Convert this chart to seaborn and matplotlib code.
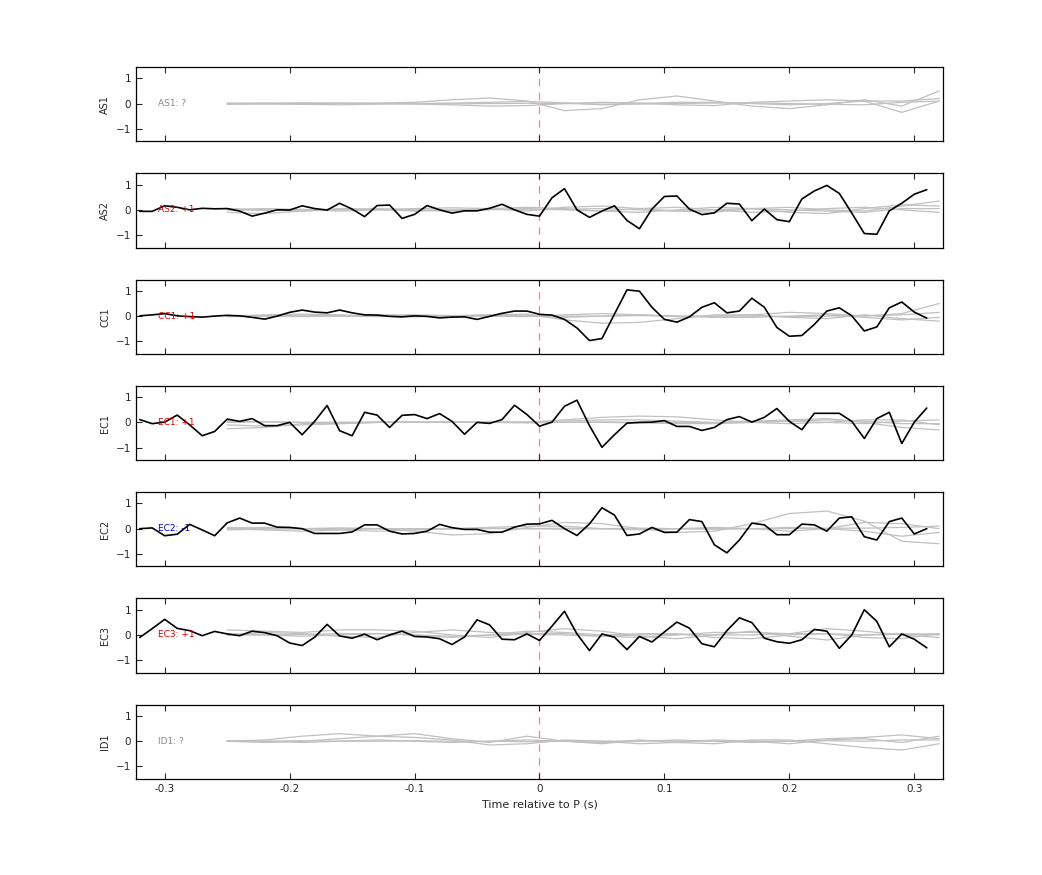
import numpy as np
import pandas as pd
import matplotlib
matplotlib.use("Agg")
import matplotlib.pyplot as plt
import seaborn as sns

sns.set_style("white")
plt.rcParams['font.family'] = ['DejaVu Sans']

stations = ["AS1", "AS2", "CC1", "EC1", "EC2", "EC3", "ID1"]
labels = ["AS1: ?", "AS2: +1", "CC1: +1", "EC1: +1", "EC2: -1", "EC3: +1", "ID1: ?"]
label_colors = ["#888888", "#dd0000", "#dd0000", "#dd0000", "#0000cc", "#dd0000", "#888888"]

black_AS2 = [-0.06, -0.06, 0.16, 0.10, 0.0, 0.06, 0.04, 0.05, -0.05, -0.25, -0.13, 0.0, -0.01, 0.16, 0.05, -0.01,
             0.26, 0.03, -0.27, 0.17, 0.19, -0.34, -0.18, 0.17, 0.0, -0.13, -0.04, -0.04, 0.06, 0.22, 0.0, -0.18,
             -0.25, 0.48, 0.84, 0.0, -0.30, -0.05, 0.16, -0.42, -0.75, 0.03, 0.53, 0.55, 0.03, -0.19, -0.12, 0.26,
             0.23, -0.43, 0.03, -0.39, -0.47, 0.43, 0.75, 0.97, 0.65, -0.13, -0.94, -0.97, -0.04, 0.26, 0.62, 0.80]
black_CC1 = [0.01, 0.05, 0.10, 0.01, -0.02, -0.04, 0.0, 0.03, 0.01, -0.05, -0.12, 0.0, 0.15, 0.24, 0.16, 0.13,
             0.24, 0.13, 0.05, 0.04, -0.01, -0.03, 0.01, -0.01, -0.07, -0.04, -0.03, -0.13, -0.01, 0.11, 0.20, 0.20,
             0.07, 0.04, -0.13, -0.47, -0.97, -0.89, 0.08, 1.04, 0.99, 0.35, -0.13, -0.24, -0.03, 0.35, 0.53, 0.13,
             0.20, 0.71, 0.35, -0.45, -0.80, -0.77, -0.33, 0.20, 0.33, 0.01, -0.59, -0.43, 0.33, 0.56, 0.16, -0.08]
black_EC1 = [0.11, -0.05, 0.01, 0.29, -0.10, -0.53, -0.36, 0.13, 0.04, 0.15, -0.13, -0.13, 0.0, -0.49, 0.04, 0.67,
             -0.33, -0.53, 0.40, 0.29, -0.20, 0.28, 0.31, 0.15, 0.35, 0.04, -0.47, 0.0, -0.04, 0.11, 0.68, 0.31,
             -0.15, 0.01, 0.64, 0.88, -0.13, -0.99, -0.49, -0.03, 0.0, 0.01, 0.07, -0.16, -0.16, -0.32, -0.20, 0.11,
             0.23, 0.01, 0.20, 0.55, 0.04, -0.29, 0.36, 0.36, 0.36, 0.04, -0.64, 0.15, 0.40, -0.84, 0.01, 0.57]
black_EC2 = [0.0, 0.03, -0.28, -0.22, 0.17, -0.05, -0.28, 0.23, 0.42, 0.22, 0.22, 0.06, 0.05, 0.0, -0.19, -0.19,
             -0.19, -0.13, 0.15, 0.15, -0.10, -0.21, -0.19, -0.10, 0.17, 0.04, -0.03, -0.03, -0.14, -0.14, 0.06, 0.18,
             0.19, 0.33, 0.0, -0.27, 0.19, 0.83, 0.54, -0.27, -0.21, 0.05, -0.15, -0.14, 0.36, 0.28, -0.64, -0.96,
             -0.45, 0.22, 0.15, -0.24, -0.24, 0.18, 0.15, -0.10, 0.42, 0.47, -0.32, -0.45, 0.28, 0.42, -0.21, 0.0]
black_EC3 = [-0.10, 0.25, 0.62, 0.26, 0.17, -0.03, 0.14, 0.04, -0.03, 0.15, 0.09, -0.03, -0.32, -0.42, -0.09, 0.42,
             -0.04, -0.13, 0.03, -0.19, 0.0, 0.15, -0.06, -0.08, -0.15, -0.38, -0.08, 0.60, 0.40, -0.17, -0.19, 0.04,
             -0.22, 0.35, 0.94, 0.04, -0.62, 0.04, -0.09, -0.58, -0.06, -0.28, 0.12, 0.51, 0.27, -0.35, -0.47, 0.17,
             0.68, 0.49, -0.13, -0.27, -0.33, -0.19, 0.22, 0.15, -0.53, 0.0, 1.00, 0.54, -0.47, 0.04, -0.17, -0.51]
black_series = {"AS2": black_AS2, "CC1": black_CC1, "EC1": black_EC1, "EC2": black_EC2, "EC3": black_EC3}
black_times = [round(-0.32 + 0.01 * i, 2) for i in range(64)]

gray_times = [-0.25, -0.22, -0.19, -0.16, -0.13, -0.10, -0.07, -0.04, -0.01, 0.02, 0.05, 0.08, 0.11, 0.14,
              0.17, 0.20, 0.23, 0.26, 0.29, 0.32]
gray_series = {
    "AS1": [[0, 0, -0.02, 0, 0.02, 0.05, 0.15, 0.22, 0.10, -0.28, -0.20, 0.15, 0.30, 0.10, -0.10, -0.20, -0.05, 0.15, -0.10, 0.50],
            [0.02, 0, -0.03, -0.05, -0.02, 0, 0.02, 0.05, 0.08, 0.03, -0.05, 0, 0.05, 0.05, 0, -0.05, 0, 0.10, -0.35, 0.10],
            [0, 0.02, 0.03, 0.02, 0, -0.02, -0.05, -0.10, -0.08, 0, 0.05, 0.02, -0.05, -0.08, 0.05, 0.10, 0.15, 0.10, 0.10, 0.20],
            [-0.03, -0.02, 0, 0.01, 0, 0, -0.01, 0, 0.01, 0, -0.02, -0.02, 0, 0.02, 0.03, 0, -0.03, -0.05, 0.05, 0.10]],
    "AS2": [[0, 0.05, 0.02, -0.05, 0, 0.05, 0.08, 0.05, -0.05, 0.10, 0.15, 0.05, -0.05, -0.10, 0.05, 0.10, 0, -0.05, 0.15, 0.35],
            [-0.10, -0.15, -0.05, 0.05, 0.02, -0.05, -0.02, 0.05, 0.10, 0.05, -0.05, -0.10, 0, 0.10, 0.05, -0.10, -0.15, 0.05, 0.20, 0.15],
            [0.05, 0, -0.05, 0, 0.05, 0, -0.05, 0, 0.05, 0, -0.05, 0.05, 0.10, 0, -0.10, -0.05, 0.05, 0.10, 0, -0.10],
            [0, -0.02, 0, 0.02, 0, -0.02, 0, 0.02, 0, 0.02, 0.05, 0, -0.05, 0, 0.05, 0, -0.05, -0.10, 0.05, 0.05]],
    "CC1": [[0, 0.05, 0.08, 0.05, 0, -0.03, 0, 0.05, 0.08, -0.15, -0.28, -0.25, -0.10, 0.05, 0.05, -0.05, -0.10, 0.05, -0.10, -0.20],
            [0.02, 0, -0.02, 0, 0.05, 0.05, 0.02, 0, -0.02, 0.05, 0.10, 0.05, -0.02, 0, 0.05, 0.15, 0.10, 0, 0.10, 0.50],
            [-0.02, 0, 0.02, 0, -0.02, 0, 0.02, 0.05, 0, -0.05, 0, 0.05, 0, -0.05, -0.05, 0, 0.05, -0.05, -0.15, -0.05],
            [0, 0, 0.02, 0.02, 0, 0, -0.02, 0, 0.02, 0, 0, 0.02, 0, 0, 0, -0.02, 0, 0.02, 0.05, 0.15]],
    "EC1": [[-0.25, -0.20, -0.05, -0.05, 0, 0, 0.02, 0, 0, 0.10, 0.20, 0.25, 0.22, 0.10, 0, -0.05, 0, 0.10, 0.10, -0.10],
            [-0.10, -0.15, -0.10, -0.05, 0, 0, 0, 0, 0.02, 0.05, 0.10, 0.10, 0.05, 0, 0.05, 0.10, 0.15, 0, -0.20, -0.30],
            [0, 0.02, 0, 0, 0.02, 0, 0, 0.02, 0, 0, 0.02, 0, 0, -0.02, 0, 0.05, 0.10, 0.05, -0.05, -0.05],
            [0.05, 0.02, 0, 0, 0, 0.02, 0, 0, -0.02, 0, 0, -0.02, -0.05, -0.05, 0, 0.05, 0, -0.05, 0.05, 0.10]],
    "EC2": [[0, -0.05, -0.10, -0.05, 0, -0.10, -0.25, -0.20, 0.05, 0.25, 0.20, 0, -0.15, -0.10, 0.20, 0.60, 0.70, 0.30, -0.50, -0.60],
            [0, 0.05, 0, -0.05, -0.10, -0.05, 0, 0.05, 0.10, 0.10, 0, -0.05, 0, 0.05, 0, -0.10, 0, 0.25, 0.20, 0],
            [0.05, 0, 0, 0.02, 0, 0, 0, 0, 0, 0.02, 0, 0, 0, 0, 0, 0, 0.02, 0.02, 0.05, 0.10],
            [-0.05, -0.02, 0, 0.02, 0, -0.02, 0, 0.02, 0, -0.02, 0, 0.02, 0, -0.02, 0, 0.05, 0, -0.10, -0.30, -0.15]],
    "EC3": [[0.20, 0.15, 0.10, 0.20, 0.20, 0.15, 0, -0.10, 0.10, 0.25, 0.15, -0.05, -0.15, 0, 0.15, -0.05, -0.20, 0, 0.05, 0],
            [0, 0.10, 0.05, -0.05, -0.10, 0.10, 0.20, 0.10, 0.05, 0.05, -0.05, -0.10, 0, 0.10, 0.10, 0.05, 0.25, 0.15, 0, -0.10],
            [0.05, 0, -0.05, 0, 0.05, 0, -0.10, 0, 0.15, 0.10, 0, 0.05, 0.05, -0.10, -0.15, 0, 0.05, -0.10, -0.15, 0.05],
            [0, 0, 0.02, 0.05, 0.05, 0, -0.05, 0, 0.02, 0, -0.05, 0, 0.02, 0, 0, 0.05, 0.05, 0, 0.02, 0.05]],
    "ID1": [[0, 0.05, 0.20, 0.30, 0.20, 0.15, 0.05, -0.15, -0.10, 0.05, 0, -0.10, -0.05, 0.05, 0, -0.10, 0.05, 0.10, -0.05, 0.20],
            [0, -0.05, 0, 0.10, 0.20, 0.30, 0.10, -0.05, 0.20, 0, -0.10, 0.05, -0.05, -0.10, 0.05, 0.05, -0.10, -0.25, -0.35, -0.10],
            [0.02, 0, -0.05, 0, 0.05, 0, -0.05, 0, 0.05, 0, -0.05, 0, 0.05, 0, -0.05, 0, 0.10, 0.15, 0.25, 0.10],
            [0, 0, 0.02, 0, 0, 0.02, 0, 0, -0.02, 0, 0, 0.02, 0, 0, 0, 0, 0.02, 0, 0.05, 0.05]],
}

fig, axes = plt.subplots(len(stations), 1, figsize=(10.42, 8.75), dpi=100, sharex=True)
fig.subplots_adjust(left=0.1305, right=0.905, top=0.9234, bottom=0.1097, hspace=0.43)

for ax, st, lab, lc in zip(axes, stations, labels, label_colors):
    for k, vals in enumerate(gray_series[st]):
        df = pd.DataFrame({"t": gray_times, "v": vals})
        sns.lineplot(data=df, x="t", y="v", ax=ax, color="#c0c0c0", lw=0.9, legend=False)
    if st in black_series:
        df = pd.DataFrame({"t": black_times, "v": black_series[st]})
        sns.lineplot(data=df, x="t", y="v", ax=ax, color="black", lw=1.2, legend=False)
    ax.axvline(0, color="#e88888", lw=0.9, ls=(0, (6, 5)), zorder=0)
    ax.set_xlim(-0.323, 0.323)
    ax.set_ylim(-1.5, 1.45)
    ax.set_yticks([-1, 0, 1])
    ax.set_xticks([-0.3, -0.2, -0.1, 0, 0.1, 0.2, 0.3])
    ax.set_xticklabels(["-0.3", "-0.2", "-0.1", "0", "0.1", "0.2", "0.3"])
    ax.tick_params(direction="in", length=4, labelsize=7.5, top=True, right=False, bottom=True, left=True)
    ax.set_ylabel(st, fontsize=7)
    ax.set_xlabel("")
    ax.text(-0.305, 0, lab, color=lc, fontsize=6.5, va="center", ha="left")
    for sp in ax.spines.values():
        sp.set_linewidth(0.9)
        sp.set_color("black")

axes[-1].set_xlabel("Time relative to P (s)", fontsize=8)
fig.savefig("out.png", dpi=100)
